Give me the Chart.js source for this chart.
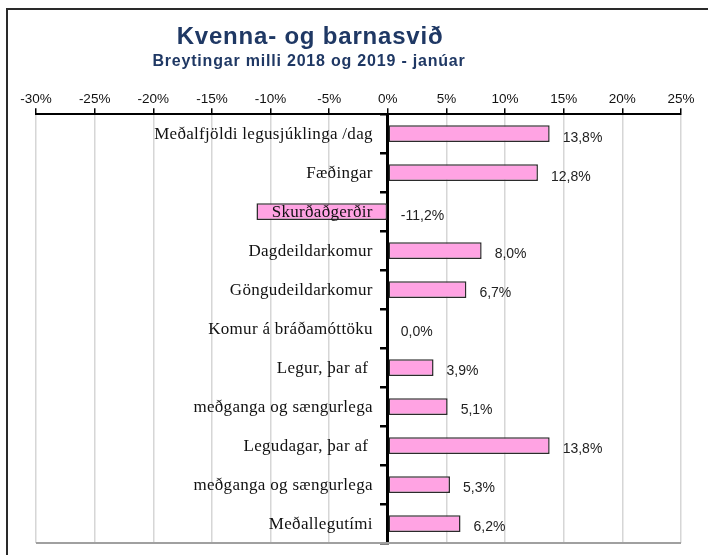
<!DOCTYPE html>
<html>
<head>
<meta charset="utf-8">
<script src="https://cdn.jsdelivr.net/npm/chart.js@4.4.0/dist/chart.umd.min.js"></script>
<style>
  html, body { margin: 0; padding: 0; background: #fff; overflow: hidden; }
  #wrap { position: relative; width: 708px; height: 555px; }
  #frame { position: absolute; left: 6px; top: 8px; width: 760px; height: 600px; border: 2px solid #2a2a2a; }
  canvas { position: absolute; left: 0; top: 0; }
</style>
</head>
<body>
<div id="wrap">
  <div id="frame"></div>
  <canvas id="chart" width="708" height="555"></canvas>
</div>
<script>
const TITLE = 'Kvenna- og barnasvið'
const SUBTITLE = 'Breytingar milli 2018 og 2019 - janúar'

const CATEGORIES = [
  'Meðalfjöldi legusjúklinga /dag',
  'Fæðingar',
  'Skurðaðgerðir',
  'Dagdeildarkomur',
  'Göngudeildarkomur',
  'Komur á bráðamóttöku',
  'Legur, þar af ',
  'meðganga og sængurlega',
  'Legudagar, þar af ',
  'meðganga og sængurlega',
  'Meðallegutími'
]
const CHANGE = [13.8, 12.8, -11.2, 8.0, 6.7, 0.0, 3.9, 5.1, 13.8, 5.3, 6.2]

const X_MIN = -30
const X_MAX = 25
const X_STEP = 5

const PINK = '#ffa3e3'
const NAVY = '#1f3864'

function pct(v, digits) {
  return v.toFixed(digits).replace('.', ',') + '%'
}

// titles, category names next to the zero line and value labels
const labelsPlugin = {
  id: 'labels',
  beforeDatasetsDraw(chart) {
    const { ctx, chartArea } = chart
    ctx.save()
    ctx.strokeStyle = '#a0a0a0'
    ctx.lineWidth = 2
    ctx.beginPath()
    ctx.moveTo(chartArea.left, chartArea.bottom)
    ctx.lineTo(chartArea.right, chartArea.bottom)
    ctx.stroke()
    ctx.restore()
  },
  afterDatasetsDraw(chart) {
    const { ctx } = chart
    const xs = chart.scales.x
    const ys = chart.scales.y
    const zero = xs.getPixelForValue(0)
    ctx.save()
    ctx.textBaseline = 'middle'

    ctx.font = '17px "Liberation Serif", "Times New Roman", serif'
    ctx.letterSpacing = '0.3px'
    ctx.fillStyle = '#111'
    ctx.textAlign = 'right'
    CATEGORIES.forEach((c, i) => {
      ctx.fillText(c, zero - 15, ys.getPixelForTick(i) + 1)
    })

    ctx.font = '14px "Liberation Sans", Arial, sans-serif'
    ctx.letterSpacing = '0px'
    ctx.fillStyle = '#222'
    ctx.textAlign = 'left'
    CHANGE.forEach((v, i) => {
      const end = xs.getPixelForValue(Math.max(v, 0))
      ctx.fillText(pct(v, 1), end + 13, ys.getPixelForTick(i) + 4)
    })
    ctx.restore()
  },
  afterDraw(chart) {
    const { ctx } = chart
    ctx.save()
    ctx.fillStyle = NAVY
    ctx.textAlign = 'center'
    ctx.textBaseline = 'alphabetic'
    ctx.letterSpacing = '0.8px'
    ctx.font = 'bold 24px "Liberation Sans", Arial, sans-serif'
    ctx.fillText(TITLE, 310, 44)
    ctx.font = 'bold 16px "Liberation Sans", Arial, sans-serif'
    ctx.fillText(SUBTITLE, 309, 66)
    ctx.restore()
  }
}

new Chart(document.getElementById('chart'), {
  type: 'bar',
  data: {
    labels: CATEGORIES,
    datasets: [{
      data: CHANGE,
      backgroundColor: PINK,
      borderColor: '#2b2b2b',
      borderWidth: 1.5,
      borderSkipped: false,
      barPercentage: 0.43,
      categoryPercentage: 1
    }]
  },
  options: {
    indexAxis: 'y',
    responsive: false,
    animation: false,
    layout: {
      padding: { left: 36, right: 27, top: 90, bottom: 12 }
    },
    plugins: {
      legend: { display: false },
      title: { display: false },
      tooltip: { enabled: false }
    },
    scales: {
      x: {
        position: 'top',
        min: X_MIN,
        max: X_MAX,
        ticks: {
          stepSize: X_STEP,
          padding: 1,
          color: '#111',
          font: { family: '"Liberation Sans", Arial, sans-serif', size: 13.5 },
          callback: (v) => v + '%'
        },
        grid: {
          color: '#d6d6d6',
          lineWidth: 1.5,
          tickColor: '#000',
          tickLength: 6
        },
        border: { color: '#000', width: 2 }
      },
      y: {
        type: 'category',
        position: { x: 0 },
        offset: true,
        ticks: { display: false },
        grid: {
          offset: true,
          drawOnChartArea: false,
          color: '#000',
          lineWidth: 2.5,
          tickLength: 6
        },
        border: { color: '#000', width: 3 }
      }
    }
  },
  plugins: [labelsPlugin]
})
</script>
</body>
</html>
